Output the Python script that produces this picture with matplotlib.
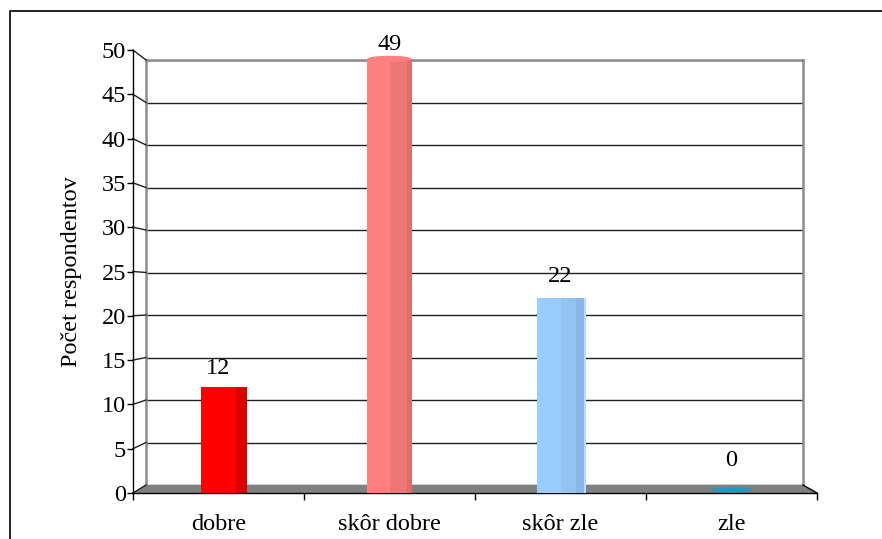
import matplotlib.pyplot as plt
from matplotlib.patches import Polygon, Ellipse, Rectangle
from matplotlib.lines import Line2D

plt.rcParams['font.family'] = ['Liberation Serif', 'DejaVu Serif']

categories = ['dobre', 'skôr dobre', 'skôr zle', 'zle']
values = [12, 49, 22, 0]
y_ticks = [0, 5, 10, 15, 20, 25, 30, 35, 40, 45, 50]
y_label = 'Počet respondentov'

# label gap above each bar top, in pixels
label_pad = [8, 4, 11, 22]

W, H = 882, 539
FS = 17.5
fig = plt.figure(figsize=(W / 100, H / 100), dpi=100)

# front plane (axes, ticks, bars) and back wall (gridlines)
front = [133, 50, 817, 493]
back = [146, 60, 803, 485]


def rect(b):
    l, t, r, bt = b
    return [l / W, (H - bt) / H, (r - l) / W, (bt - t) / H]


axb = fig.add_axes(rect(back), zorder=0)
ax = fig.add_axes(rect(front), zorder=1)
for a in (ax, axb):
    a.set_xlim(-0.5, len(categories) - 0.5)
    a.set_ylim(0, 50)

# back wall
axb.set_xticks([])
axb.set_yticks(y_ticks)
axb.set_yticklabels([])
axb.tick_params(length=0)
axb.yaxis.grid(True, color='#202020', lw=1.0)
axb.set_axisbelow(True)
for s in ('left', 'right', 'top'):
    axb.spines[s].set_color('#8c8c8c')
    axb.spines[s].set_linewidth(1.8)
axb.spines['bottom'].set_visible(False)

# front axes
ax.patch.set_alpha(0)
ax.spines['top'].set_visible(False)
ax.spines['right'].set_visible(False)
ax.spines['left'].set_linewidth(1.0)
ax.spines['bottom'].set_linewidth(1.0)
ax.set_yticks(y_ticks)
ax.set_yticklabels([str(v) for v in y_ticks], fontsize=FS)
ax.tick_params(axis='y', length=4, width=1, pad=1)
ax.set_xticks([i - 0.5 for i in range(len(categories) + 1)])
ax.set_xticklabels([])
ax.tick_params(axis='x', length=5, width=1)
ax.set_xticks(range(len(categories)), minor=True)
ax.set_xticklabels(categories, minor=True, fontsize=FS)
ax.tick_params(axis='x', which='minor', length=0, pad=15)
ax.set_ylabel(y_label, fontsize=FS, labelpad=14)

# floor and side wall through the two axes transforms
fig.canvas.draw()
x0, x1 = ax.get_xlim()
fl = ax.transData.transform([(x0, 0), (x1, 0)])
bl = axb.transData.transform([(x1, 0), (x0, 0)])
floor = Polygon(list(fl) + list(bl), closed=True, transform=None,
                facecolor='#808080', edgecolor='none', zorder=0.5)
fig.patches.append(floor)
fig.lines.append(Line2D([fl[1][0], bl[0][0]], [fl[1][1], bl[0][1]],
                        transform=None, color='black', lw=1.0, zorder=0.6))
for v in y_ticks:
    p = ax.transData.transform((x0, v))
    q = axb.transData.transform((x0, v))
    fig.lines.append(Line2D([p[0], q[0]], [p[1], q[1]], transform=None,
                            color='#202020', lw=1.0, zorder=0.6))

# bars: full light body first, darker faces laid over it
w = 0.21
# dobre: box with dark side
ax.bar(0.03, values[0], width=w + 0.06, color='#d90000', lw=0, zorder=2)
ax.bar(0, values[0], width=w, color='#ff0000', lw=0, zorder=3)
# skor dobre: cylinder
ax.bar(1, values[1], width=0.26, color='#ff8080', lw=0, zorder=3)
ax.bar(1 + 0.065, values[1], width=0.13, color='#ef7676', lw=0, zorder=3)
ax.bar(1 + 0.115, values[1], width=0.03, color='#e06c6c', lw=0, zorder=3)
ax.add_patch(Ellipse((1, values[1]), 0.26, 0.7, color='#ff8080', lw=0, zorder=3))
# skor zle: prism
ax.bar(2, values[2], width=0.28, color='#99ccff', lw=0, zorder=3)
ax.bar(2 + 0.07, values[2], width=0.14, color='#93c3f3', lw=0, zorder=3)
ax.bar(2 + 0.115, values[2], width=0.05, color='#8ab5e5', lw=0, zorder=3)
ax.bar(2 + 0.145, values[2], width=0.012, color='#b8dcff', lw=0, zorder=3)
# zle: flat disk
ax.add_patch(Ellipse((3, values[3] + 0.35), 0.24, 0.55, color='#1a9cc4', lw=0, zorder=3))

for i, v in enumerate(values):
    ax.annotate(str(v), (i, v), xytext=(0, label_pad[i] * 0.72),
                textcoords='offset points', ha='center', va='bottom',
                fontsize=FS, zorder=5, annotation_clip=False)

# outer chart border
fig.patches.append(Rectangle((10 / W, -0.1), 1.2, (H - 11) / H + 0.1,
                             transform=fig.transFigure, fill=False,
                             edgecolor='black', lw=1.2, zorder=10))

fig.savefig('out.png', dpi=100)
